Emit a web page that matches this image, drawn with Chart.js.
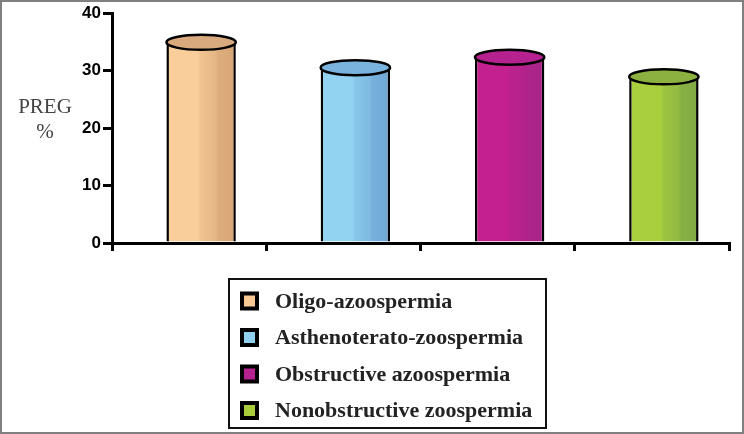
<!DOCTYPE html>
<html lang="en">
<head>
    <meta charset="UTF-8">
    <title>PREG % by diagnosis</title>
    <script src="https://cdn.jsdelivr.net/npm/chart.js"></script>
    <style>
        html, body { margin: 0; padding: 0; background: #fff; }
        #wrap { width: 744px; height: 434px; position: relative; }
    </style>
</head>
<body>
    <div id="wrap"><canvas id="pregChart"></canvas></div>

    <script>
        // data
        const categories = ['Oligo-azoospermia', 'Asthenoterato-zoospermia', 'Obstructive azoospermia', 'Nonobstructive zoospermia'];
        const pregRates = [34.9, 30.5, 32.3, 28.9];

        // colours: light side, dark side, cap, legend swatch
        const lightColors = ['#F9CE9B', '#93D3F2', '#C4208F', '#AACF3E'];
        const darkColors = ['#D7A576', '#6FA7D5', '#A82488', '#80A946'];
        const capColors = ['#D9AA7E', '#79B3DE', '#B5218F', '#8CB141'];
        const swatchColors = ['#F9C994', '#8FD0F0', '#B5218F', '#A8CC3A'];

        const BAR_SHIFT = 12;
        const CAP_RY = 7.5;

        function barGradient(ctx) {
            const chart = ctx.chart;
            const i = ctx.dataIndex;
            if (!chart.chartArea || ctx.type !== 'data') return lightColors[i];
            const xs = chart.scales.x;
            const cx = xs.getPixelForValue(i);
            const half = xs.width / categories.length * 0.45 / 2;
            const g = chart.ctx.createLinearGradient(cx - half, 0, cx + half, 0);
            g.addColorStop(0, lightColors[i]);
            g.addColorStop(0.45, lightColors[i]);
            g.addColorStop(0.5, mix(lightColors[i], darkColors[i], 0.3));
            g.addColorStop(0.7, mix(lightColors[i], darkColors[i], 0.55));
            g.addColorStop(0.75, mix(lightColors[i], darkColors[i], 0.8));
            g.addColorStop(1, darkColors[i]);
            return g;
        }

        function mix(a, b, t) {
            const pa = [1, 3, 5].map(k => parseInt(a.substr(k, 2), 16));
            const pb = [1, 3, 5].map(k => parseInt(b.substr(k, 2), 16));
            return 'rgb(' + pa.map((v, k) => Math.round(v + (pb[k] - v) * t)).join(',') + ')';
        }

        // shift bars a bit right and put a cylinder cap on each
        const cylinderPlugin = {
            id: 'cylinder',
            beforeDatasetsDraw(chart) {
                chart.ctx.save();
                chart.ctx.translate(BAR_SHIFT, 0);
            },
            afterDatasetsDraw(chart) {
                const ctx = chart.ctx;
                chart.getDatasetMeta(0).data.forEach((bar, i) => {
                    ctx.beginPath();
                    ctx.ellipse(bar.x, bar.y, bar.width / 2, CAP_RY, 0, 0, Math.PI * 2);
                    ctx.fillStyle = capColors[i];
                    ctx.fill();
                    ctx.lineWidth = 2.5;
                    ctx.strokeStyle = '#000';
                    ctx.stroke();
                });
                ctx.restore();
            }
        };

        // frame, axis caption and boxed legend
        const decorPlugin = {
            id: 'decor',
            afterDraw(chart) {
                const ctx = chart.ctx;
                ctx.save();

                ctx.strokeStyle = '#808080';
                ctx.lineWidth = 2;
                ctx.strokeRect(1, 1, chart.width - 2, chart.height - 2);

                ctx.fillStyle = '#444';
                ctx.font = '21px "Liberation Serif", "Times New Roman", serif';
                ctx.textAlign = 'center';
                ctx.textBaseline = 'middle';
                ctx.fillText('PREG', 45, 107);
                ctx.fillText('%', 45, 132);

                ctx.strokeStyle = '#111';
                ctx.lineWidth = 2;
                ctx.strokeRect(229, 279, 317, 149);

                ctx.font = 'bold 22px "Liberation Serif", "Times New Roman", serif';
                ctx.textAlign = 'left';
                categories.forEach((label, i) => {
                    const cy = 301 + i * 36.5;
                    ctx.fillStyle = '#000';
                    ctx.fillRect(240, cy - 9.5, 19, 19);
                    ctx.fillStyle = swatchColors[i];
                    ctx.fillRect(244, cy - 5.5, 11, 11);
                    ctx.fillStyle = '#222';
                    ctx.fillText(label, 275, cy + 1);
                });
                ctx.restore();
            }
        };

        new Chart(document.getElementById('pregChart'), {
            type: 'bar',
            data: {
                labels: categories,
                datasets: [{
                    label: 'PREG %',
                    data: pregRates,
                    backgroundColor: barGradient,
                    borderColor: '#000',
                    borderWidth: { left: 2.5, right: 2.5, top: 0, bottom: 0 },
                    borderSkipped: 'bottom',
                    categoryPercentage: 1,
                    barPercentage: 0.45
                }]
            },
            options: {
                responsive: true,
                maintainAspectRatio: false,
                animation: false,
                layout: { padding: { left: 0, top: 13, right: 15, bottom: 0 } },
                plugins: {
                    legend: { display: false },
                    tooltip: { enabled: false }
                },
                scales: {
                    x: {
                        offset: true,
                        afterFit: s => { s.height = 191; },
                        grid: { offset: true, drawOnChartArea: false, drawTicks: true, tickLength: 8, color: '#000', lineWidth: 3 },
                        border: { display: true, color: '#000', width: 3 },
                        ticks: { display: false }
                    },
                    y: {
                        min: 0,
                        max: 40,
                        afterFit: s => { s.width = 112; },
                        ticks: {
                            stepSize: 10,
                            color: '#000',
                            padding: 2,
                            font: { family: '"Liberation Sans", Arial, sans-serif', size: 17, weight: 'bold' }
                        },
                        grid: { drawOnChartArea: false, drawTicks: true, tickLength: 9, color: '#000', lineWidth: 3 },
                        border: { display: true, color: '#000', width: 3 }
                    }
                }
            },
            plugins: [cylinderPlugin, decorPlugin]
        });
    </script>
</body>
</html>
